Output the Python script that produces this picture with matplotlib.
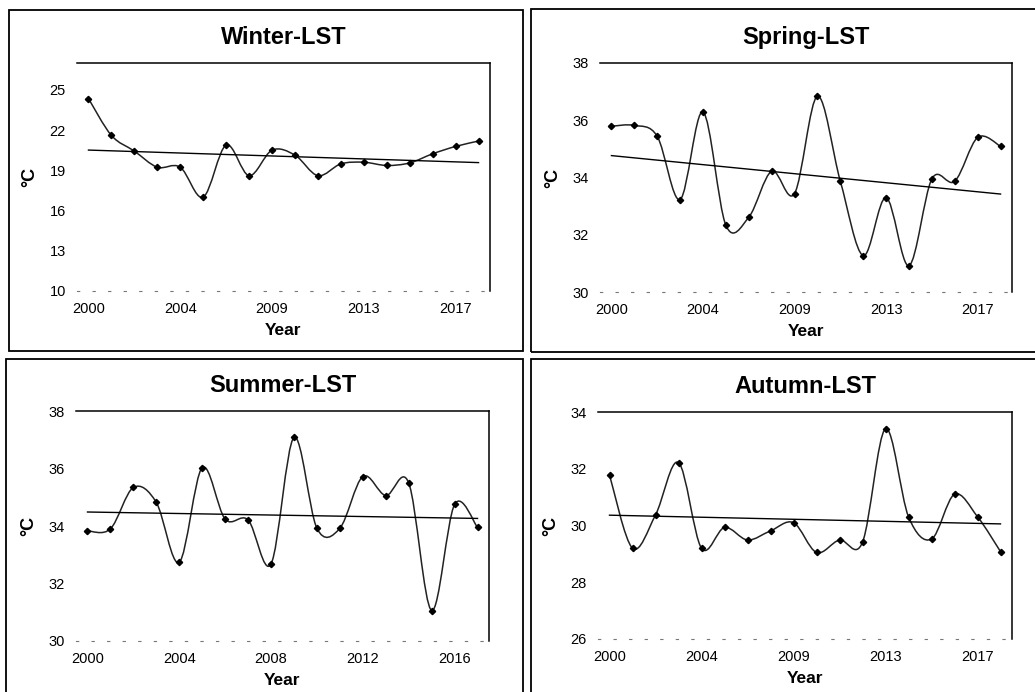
import numpy as np
import matplotlib
matplotlib.use('Agg')
import matplotlib.pyplot as plt
from matplotlib.path import Path
from matplotlib.patches import PathPatch, Rectangle

plt.rcParams['font.family'] = ['Liberation Sans', 'DejaVu Sans']

# years on the category axis (winter/spring/autumn skip 2008)
years_a = [2000, 2001, 2002, 2003, 2004, 2005, 2006, 2007, 2009,
           2010, 2011, 2012, 2013, 2014, 2015, 2016, 2017, 2018]
years_summer = [2000, 2001, 2002, 2003, 2004, 2005, 2006, 2007, 2008,
                2009, 2010, 2011, 2012, 2013, 2014, 2015, 2016, 2017]

winter_lst = [24.35, 21.6, 20.43, 19.23, 19.23, 17.0, 20.88, 18.6, 20.5,
              20.13, 18.6, 19.48, 19.6, 19.36, 19.55, 20.23, 20.78, 21.18]
spring_lst = [35.79, 35.82, 35.44, 33.23, 36.29, 32.33, 32.61, 34.22, 33.44,
              36.84, 33.87, 31.27, 33.3, 30.92, 33.95, 33.87, 35.4, 35.09]
summer_lst = [33.83, 33.9, 35.34, 34.82, 32.74, 36.03, 34.24, 34.21, 32.68,
              37.08, 33.92, 33.92, 35.72, 35.06, 35.5, 31.06, 34.75, 33.95]
autumn_lst = [31.78, 29.2, 30.37, 32.22, 29.2, 29.93, 29.49, 29.81, 30.1,
              29.05, 29.49, 29.41, 33.41, 30.31, 29.52, 31.1, 30.31, 29.08]

W, H = 1035.0, 692.0

def px_axes(fig, l, t, r, b):
    return fig.add_axes([l / W, 1 - b / H, (r - l) / W, (b - t) / H])

def smooth_path(x, y):
    # excel style smoothed line: cubic bezier, catmull-rom tangents
    pts = np.column_stack([x, y]).astype(float)
    n = len(pts)
    verts = [pts[0]]
    codes = [Path.MOVETO]
    for i in range(n - 1):
        p0 = pts[i - 1] if i > 0 else pts[i]
        p1 = pts[i]
        p2 = pts[i + 1]
        p3 = pts[i + 2] if i + 2 < n else pts[i + 1]
        verts += [p1 + (p2 - p0) / 6.0, p2 - (p3 - p1) / 6.0, p2]
        codes += [Path.CURVE4] * 3
    return Path(verts, codes)

def draw_panel(fig, box, title, years, vals, yticks, ylim):
    ax = px_axes(fig, *box)
    x = np.arange(len(vals))
    ax.add_patch(PathPatch(smooth_path(x, vals), facecolor='none',
                           edgecolor='#222222', lw=1.1))
    ax.plot(x, vals, linestyle='none', marker='D', ms=3.2, color='black')
    # linear trend
    k, c = np.polyfit(x, vals, 1)
    ax.plot(x, k * x + c, color='black', lw=1.0)

    ax.set_xlim(-0.5, len(vals) - 0.5)
    ax.set_ylim(*ylim)
    ax.set_yticks(yticks)
    ax.set_xticks(x[::4])
    ax.set_xticklabels([str(years[i]) for i in x[::4]])
    ax.tick_params(length=0, labelsize=10.5, pad=8)

    ax.spines['left'].set_visible(False)
    ax.spines['top'].set_linewidth(1.1)
    ax.spines['right'].set_linewidth(1.1)
    ax.spines['bottom'].set_color('#777777')
    ax.spines['bottom'].set_linewidth(0.8)
    ax.spines['bottom'].set_linestyle((0, (2, 12)))

    ax.set_xlabel('Year', fontsize=12.5, fontweight='bold', labelpad=5)
    ax.set_ylabel('°C', fontsize=13, fontweight='bold', labelpad=8)
    ax.set_title(title, fontsize=17, fontweight='bold', pad=14)
    return ax

fig = plt.figure(figsize=(W / 100, H / 100), dpi=100)

# outer frames of the four panels
for (l, t, r, b) in [(9, 10, 523, 351), (531, 9, 1040, 352),
                     (6, 359, 523, 700), (531, 359, 1040, 700)]:
    fig.patches.append(Rectangle((l / W, 1 - b / H), (r - l) / W, (b - t) / H,
                                 transform=fig.transFigure, fill=False,
                                 edgecolor='black', lw=1.3))

draw_panel(fig, (77, 63, 490, 291), 'Winter-LST', years_a, winter_lst,
           [10, 13, 16, 19, 22, 25], (10, 27))
draw_panel(fig, (600, 63, 1012, 292), 'Spring-LST', years_a, spring_lst,
           [30, 32, 34, 36, 38], (30, 38))
draw_panel(fig, (76, 411, 489, 641), 'Summer-LST', years_summer, summer_lst,
           [30, 32, 34, 36, 38], (30, 38))
draw_panel(fig, (598, 412, 1012, 639), 'Autumn-LST', years_a, autumn_lst,
           [26, 28, 30, 32, 34], (26, 34))

plt.savefig('out.png', dpi=100)
plt.close()
